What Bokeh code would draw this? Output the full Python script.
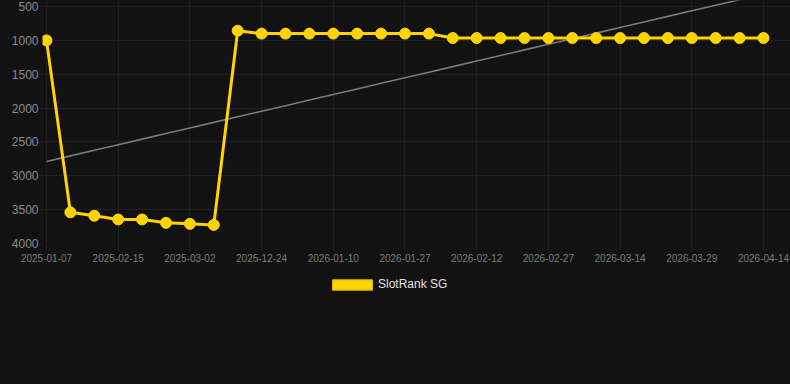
import numpy as np
from bokeh.plotting import figure
from bokeh.layouts import column
from bokeh.models import (Range1d, FixedTicker, Legend, LegendItem, ColumnDataSource)
from bokeh.embed import file_html
from bokeh.resources import INLINE

# ---- data ----
series_name = "SlotRank SG"
ranks = [1000, 3540, 3590, 3645, 3645, 3695, 3710, 3725,
         857, 900, 900, 900, 900, 900, 900, 900, 900,
         965, 965, 965, 965, 965, 965, 965, 965, 965, 965, 965, 965, 965, 965]
tick_labels = ["2025-01-07", "2025-02-15", "2025-03-02", "2025-12-24", "2026-01-10",
               "2026-01-27", "2026-02-12", "2026-02-27", "2026-03-14", "2026-03-29",
               "2026-04-14"]
y_ticks = [500, 1000, 1500, 2000, 2500, 3000, 3500, 4000]

idx = list(range(len(ranks)))
label_step = 3
tick_pos = [i * label_step for i in range(len(tick_labels))]

# linear trend from the data
slope, intercept = np.polyfit(idx, ranks, 1)
trend = [slope * i + intercept for i in idx]

BG = "#121212"
GRID = "#1e1e1e"
GOLD = "#FFD400"

p = figure(width=790, height=270, output_backend="svg", toolbar_location=None,
           x_range=Range1d(-0.167, 31.13), y_range=Range1d(4000, 411),
           min_border_left=42, min_border_right=0, min_border_top=0,
           min_border_bottom=27)
p.background_fill_color = BG
p.border_fill_color = BG
p.outline_line_color = None

src = ColumnDataSource(dict(x=idx, y=ranks, t=trend))
p.line("x", "t", source=src, line_color="#7a7a7a", line_width=1.6)
p.line("x", "y", source=src, line_color=GOLD, line_width=3)
p.scatter("x", "y", source=src, size=11, fill_color=GOLD, line_color=GOLD)

# x axis
xa = p.xaxis[0]
xa.ticker = FixedTicker(ticks=tick_pos)
xa.major_label_overrides = {pos: lab for pos, lab in zip(tick_pos, tick_labels)}
xa.axis_line_color = None
xa.major_tick_line_color = GRID
xa.major_tick_out = 8
xa.major_tick_in = 0
xa.minor_tick_line_color = None
xa.major_label_standoff = 2
xa.major_label_text_font = "Liberation Sans"
xa.major_label_text_font_size = "10px"
xa.major_label_text_color = "#7c7c7c"

# y axis
ya = p.yaxis[0]
ya.ticker = FixedTicker(ticks=y_ticks)
ya.axis_line_color = None
ya.major_tick_line_color = GRID
ya.major_tick_out = 4
ya.major_tick_in = 0
ya.minor_tick_line_color = None
ya.major_label_standoff = 0
ya.major_label_text_font = "Liberation Sans"
ya.major_label_text_font_size = "12px"
ya.major_label_text_color = "#8c8c8c"

p.xgrid.ticker = FixedTicker(ticks=tick_pos)
p.xgrid.grid_line_color = GRID
p.ygrid.ticker = FixedTicker(ticks=y_ticks)
p.ygrid.grid_line_color = GRID

# legend strip (swatch renderer sits outside the visible range; only its legend glyph shows)
q = figure(width=790, height=114, output_backend="svg", toolbar_location=None,
           x_range=Range1d(0, 1), y_range=Range1d(0, 1),
           min_border_left=0, min_border_right=0, min_border_top=0, min_border_bottom=0)
q.axis.visible = False
q.grid.visible = False
q.background_fill_color = BG
q.border_fill_color = BG
q.outline_line_color = None
swatch = q.quad(left=[-2], right=[-1], top=[-1], bottom=[-2],
                fill_color=GOLD, line_color="#d9b300", line_width=1,
                line_join="miter")

legend = Legend(items=[LegendItem(label=series_name, renderers=[swatch])],
                location=(285, 93), orientation="horizontal",
                glyph_width=50, glyph_height=13, label_height=14,
                label_standoff=1, padding=0, margin=0, spacing=0,
                background_fill_alpha=0, border_line_color=None,
                label_text_font="Liberation Sans", label_text_font_size="12px",
                label_text_color="#e0e0e0")
q.add_layout(legend, "center")

layout = column(p, q, spacing=0)
layout.styles = {"background-color": BG}
open("out.html", "w").write(file_html(layout, INLINE))
